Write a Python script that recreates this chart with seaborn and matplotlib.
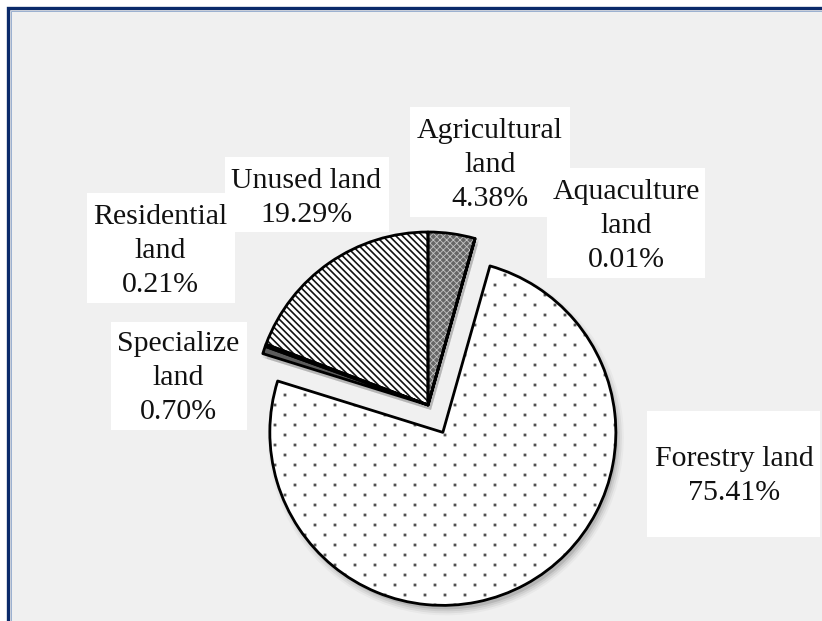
import numpy as np
import matplotlib
matplotlib.use("Agg")
import matplotlib.pyplot as plt
import matplotlib.hatch as mhatch
from matplotlib.path import Path
from matplotlib.patches import Rectangle
import seaborn as sns

# ---- data -------------------------------------------------------------
categories = ["Agricultural\nland", "Aquaculture\nland", "Forestry land",
              "Specialize\nland", "Residential\nland", "Unused land"]
shares = [4.38, 0.01, 75.41, 0.70, 0.21, 19.29]
explode_frac = [0, 0, 0.18, 0, 0, 0]

# ---- styling ----------------------------------------------------------
face_colors = ["#666666", "#ffffff", "#ffffff", "#5c5c5c", "#2a2a2a", "#ffffff"]
hatch_colors = ["#c4c4c4", "#000000", "#505050", "#5c5c5c", "#2a2a2a", "#111111"]
hatches = ["xxxxx", None, ".", None, None, "\\\\\\\\\\"]
hatch_widths = [0.6, 1.0, 1.0, 1.0, 1.0, 1.2]

# label boxes in pixels: left, top, right, bottom (origin at top-left)
label_boxes = [(410, 107, 570, 217), (547, 168, 705, 278), (647, 411, 820, 537),
               (111, 322, 247, 430), (87, 193, 235, 303), (225, 157, 389, 232)]
label_centers = [(490, 165), (626, 226), (734, 476),
                 (178, 378), (160, 251), (306, 198)]


class StaggeredDots(mhatch.HatchPatternBase):
    """Sparse staggered square dots used for the '.' hatch."""
    cols = 5
    rows = 10
    half = 0.007

    def __init__(self, hatch, density):
        self.num_dots = self.cols * self.rows if "." in hatch else 0
        self.num_vertices = self.num_dots * 5

    def set_vertices_and_codes(self, vertices, codes):
        h = self.half
        square = np.array([[-h, -h], [h, -h], [h, h], [-h, h], [-h, -h]])
        k = 0
        for r in range(self.rows):
            shift = 0.25 if r % 2 == 0 else 0.75
            for c in range(self.cols):
                pos = ((c + shift) / self.cols, (r + 0.5) / self.rows)
                vertices[k * 5:(k + 1) * 5] = square + pos
                codes[k * 5:(k + 1) * 5] = [Path.MOVETO, Path.LINETO, Path.LINETO,
                                            Path.LINETO, Path.CLOSEPOLY]
                k += 1


mhatch._hatch_types = [t for t in mhatch._hatch_types
                       if t is not mhatch.SmallFilledCircles] + [StaggeredDots]

sns.set_theme(style="white")
plt.rcParams["font.family"] = ["Liberation Serif", "DejaVu Serif"]
plt.rcParams["hatch.linewidth"] = 1.0

W, H = 822, 621
fig = plt.figure(figsize=(W / 100, H / 100), dpi=100, facecolor="white")
ax = fig.add_axes([0, 0, 1, 1])
ax.set_axis_off()

# panel background with navy frame
ax.add_patch(Rectangle((8, -30), W + 30, H - 8 + 30, facecolor="#f0f0f0",
                       edgecolor="#0b2a6a", linewidth=2.4, zorder=0))
ax.add_patch(Rectangle((10.5, -30), W + 30, H - 10.5 + 30, facecolor="none",
                       edgecolor="#9aafd0", linewidth=0.7, zorder=0.1))

R = 173
cx, cy = 428, H - 405
explode = [f * R for f in explode_frac]

# soft drop shadow
for grow, alpha in [(-1, 0.10), (1, 0.07), (3, 0.05), (5, 0.03)]:
    ax.pie(shares, radius=R + grow, center=(cx + 3, cy - 5), explode=explode,
           startangle=90, counterclock=False, colors=["black"] * len(shares),
           wedgeprops=dict(linewidth=0, alpha=alpha))

# filled and hatched wedges
wedges, _ = ax.pie(shares, radius=R, center=(cx, cy), explode=explode,
                   startangle=90, counterclock=False, colors=face_colors,
                   wedgeprops=dict(linewidth=0))
for w, hp, hc, hw in zip(wedges, hatches, hatch_colors, hatch_widths):
    w.set_edgecolor(hc)
    w.set_linewidth(0)
    w.set_hatch(hp)
    if hasattr(w, "set_hatch_linewidth"):
        w.set_hatch_linewidth(hw)
    w.set_zorder(2)

# black outlines
outlines, _ = ax.pie(shares, radius=R, center=(cx, cy), explode=explode,
                     startangle=90, counterclock=False,
                     wedgeprops=dict(fill=False, edgecolor="black", linewidth=2.0,
                                     joinstyle="round"))
for w in outlines:
    w.set_zorder(3)

ax.set_xlim(0, W)
ax.set_ylim(0, H)
ax.set_aspect("equal", adjustable="box")

# data labels
for box in label_boxes:
    x0, y0, x1, y1 = box
    ax.add_patch(Rectangle((x0, H - y1), x1 - x0, y1 - y0, facecolor="white",
                           edgecolor="none", zorder=4))
for name, share, ctr in zip(categories, shares, label_centers):
    ax.text(ctr[0], H - ctr[1], f"{name}\n{share:.2f}%", ha="center", va="center",
            multialignment="center", fontsize=21.5, linespacing=1.38,
            color="#111111", zorder=5)

fig.savefig("out.png", dpi=100, facecolor="white")
